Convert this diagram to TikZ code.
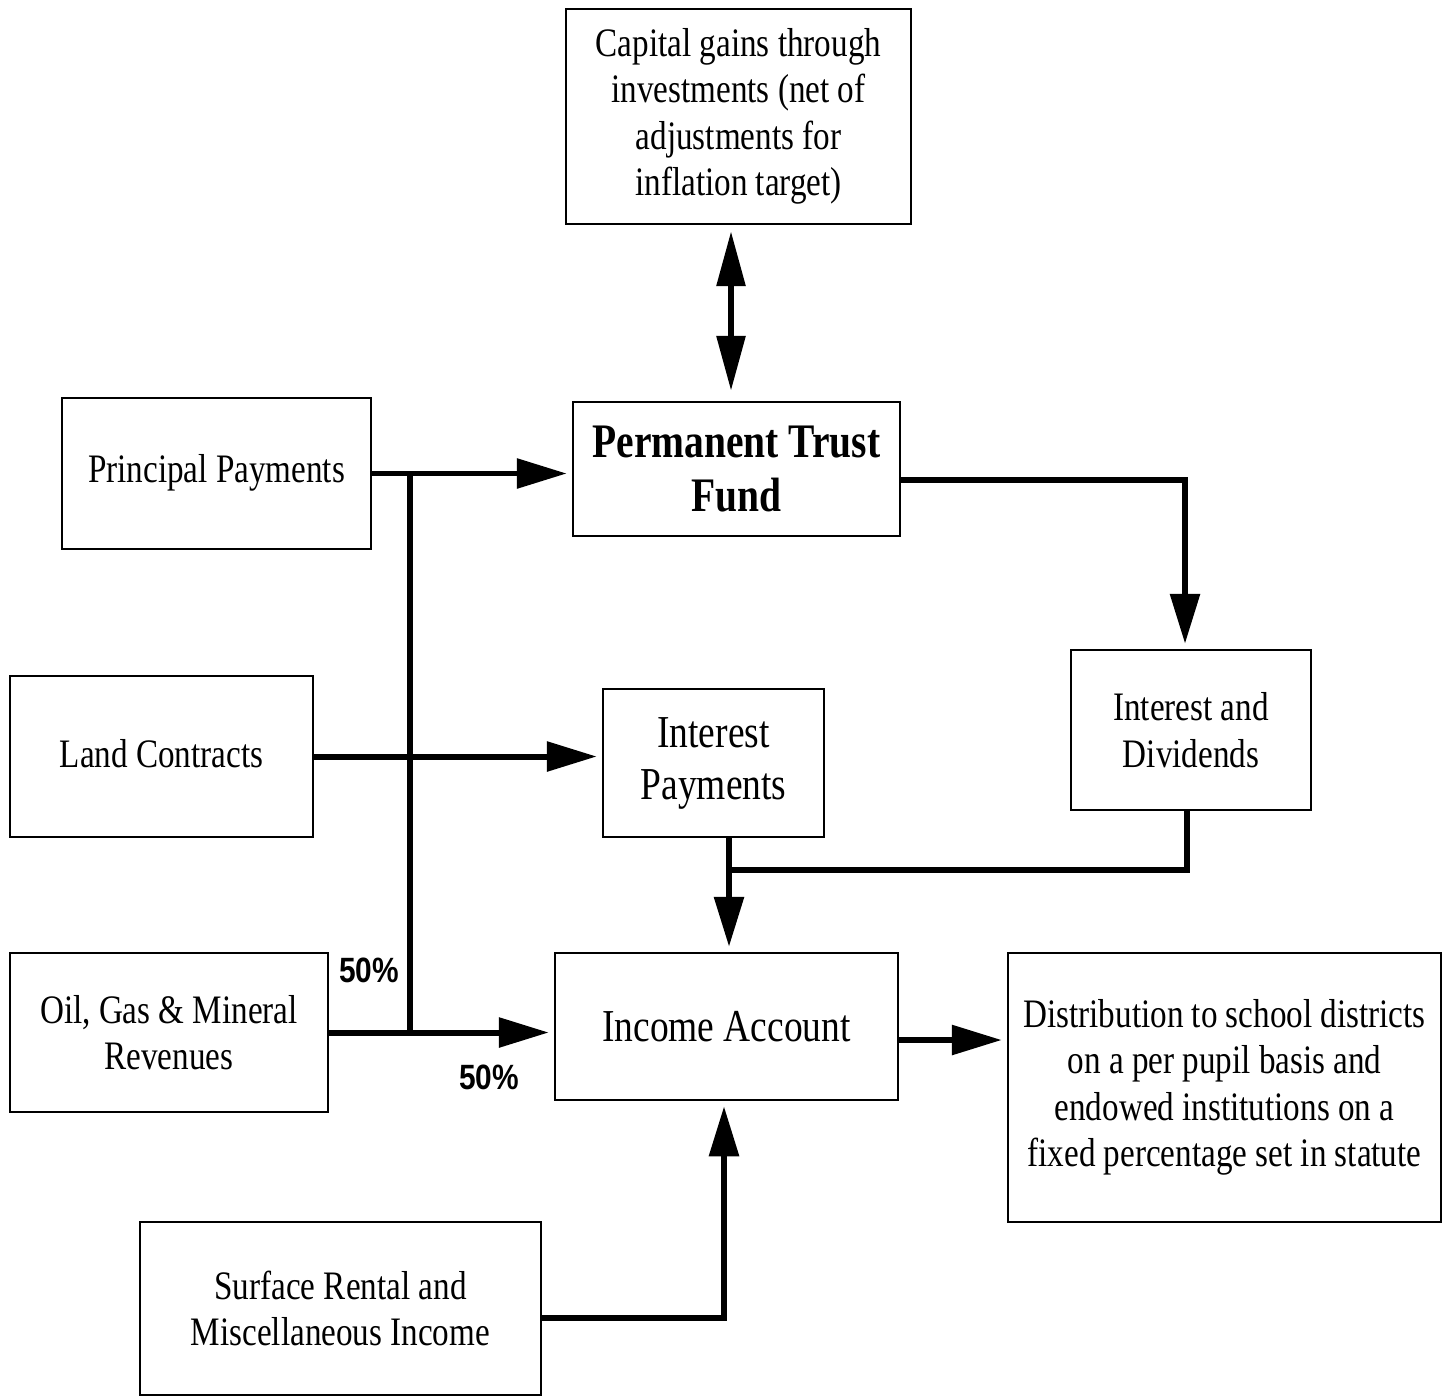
\documentclass[tikz,border=0pt]{standalone}
\usepackage{fontspec}
\setmainfont{Liberation Serif}[FakeStretch=0.82]
\newfontfamily\pctfont{Liberation Sans}[FakeStretch=0.85]
\usetikzlibrary{arrows.meta}
\begin{document}
\begin{tikzpicture}[
        box/.style={draw, line width=0.7pt, align=center, inner sep=0pt,
            font=\fontsize{11.5}{13.2}\selectfont},
        link/.style={line width=1.7pt},
        flow/.style={link, shorten >=0.5mm, -{Triangle[length=0.5cm,width=0.29cm]}},
        dbl/.style={link, shorten >=1mm, shorten <=0.6mm,
            {Triangle[length=0.55cm,width=0.28cm]}-{Triangle[length=0.55cm,width=0.28cm]}},
        pct/.style={font=\pctfont\bfseries\fontsize{10}{12}\selectfont}
    ]
        \useasboundingbox (0,0) rectangle (14.5,-13.97);

        % Top box
        \node[box, minimum width=3.45cm, minimum height=2.15cm] (cap) at (7.385,-1.165)
            {Capital gains through\\investments (net of\\adjustments for\\inflation target)};
        \node[box, minimum width=3.27cm, minimum height=1.34cm,
            font=\fontsize{13.7}{15.4}\selectfont\bfseries] (ptf) at (7.365,-4.69)
            {Permanent Trust\\Fund};

        % Sources
        \node[box, minimum width=3.09cm, minimum height=1.51cm] (prin) at (2.165,-4.735)
            {\raisebox{1.1mm}{Principal Payments}};
        \node[box, minimum width=3.03cm, minimum height=1.61cm] (land) at (1.615,-7.565)
            {\raisebox{0.7mm}{Land Contracts}};
        \node[box, minimum width=3.18cm, minimum height=1.59cm] (oil) at (1.69,-10.325) {Oil, Gas \& Mineral\\Revenues};
        \node[box, minimum width=4.01cm, minimum height=1.73cm] (surf) at (3.405,-13.085) {Surface Rental and\\Miscellaneous Income};

        % Middle
        \node[box, minimum width=2.21cm, minimum height=1.48cm,
            font=\fontsize{13}{14.8}\selectfont] (intp) at (7.135,-7.63) {Interest\\Payments};
        \node[box, minimum width=2.40cm, minimum height=1.60cm] (intd) at (11.91,-7.30) {Interest and\\Dividends};
        \node[box, minimum width=3.43cm, minimum height=1.47cm,
            font=\fontsize{13}{14.8}\selectfont] (inc) at (7.265,-10.265) {Income Account};
        \node[box, minimum width=4.33cm, minimum height=2.69cm] (dist) at (12.245,-10.875)
            {Distribution to school districts\\on a per pupil basis and\\endowed institutions on a\\fixed percentage set in statute};

        % Rails
        \coordinate (cp) at (7.31,0);
        \coordinate (j) at (4.10,0);
        \coordinate (pd) at (11.85,-4.80);
        \coordinate (mid) at (7.29,-8.70);
        \coordinate (sr) at (7.24,-13.18);
        \coordinate (id) at (9.50,-10.40);

        % Arrows
        \draw[dbl] (cp |- cap.south) -- (cp |- ptf.north);
        \draw[flow] (prin.east) -- (prin.east -| ptf.west);
        \draw[link] (j |- prin.east) -- (j |- oil.east);
        \draw[flow] (land.east) -- (land.east -| intp.west);
        \draw[flow] (oil.east) -- (oil.east -| inc.west);
        \draw[flow] (pd -| ptf.east) -- (pd) -- (pd |- intd.north);
        \draw[link] ([xshift=-0.4mm]intd.south) |- (mid);
        \draw[flow] (mid |- intp.south) -- (mid |- inc.north);
        \draw[flow] (sr -| surf.east) -- (sr) -- (sr |- inc.south);
        \draw[flow] (id -| inc.east) -- (id -| dist.west);

        % Labels
        \node[pct] (p1) at (3.69,-9.70) {50\%};
        \node[pct] (p2) at (4.89,-10.77) {50\%};
    \end{tikzpicture}
\end{document}
